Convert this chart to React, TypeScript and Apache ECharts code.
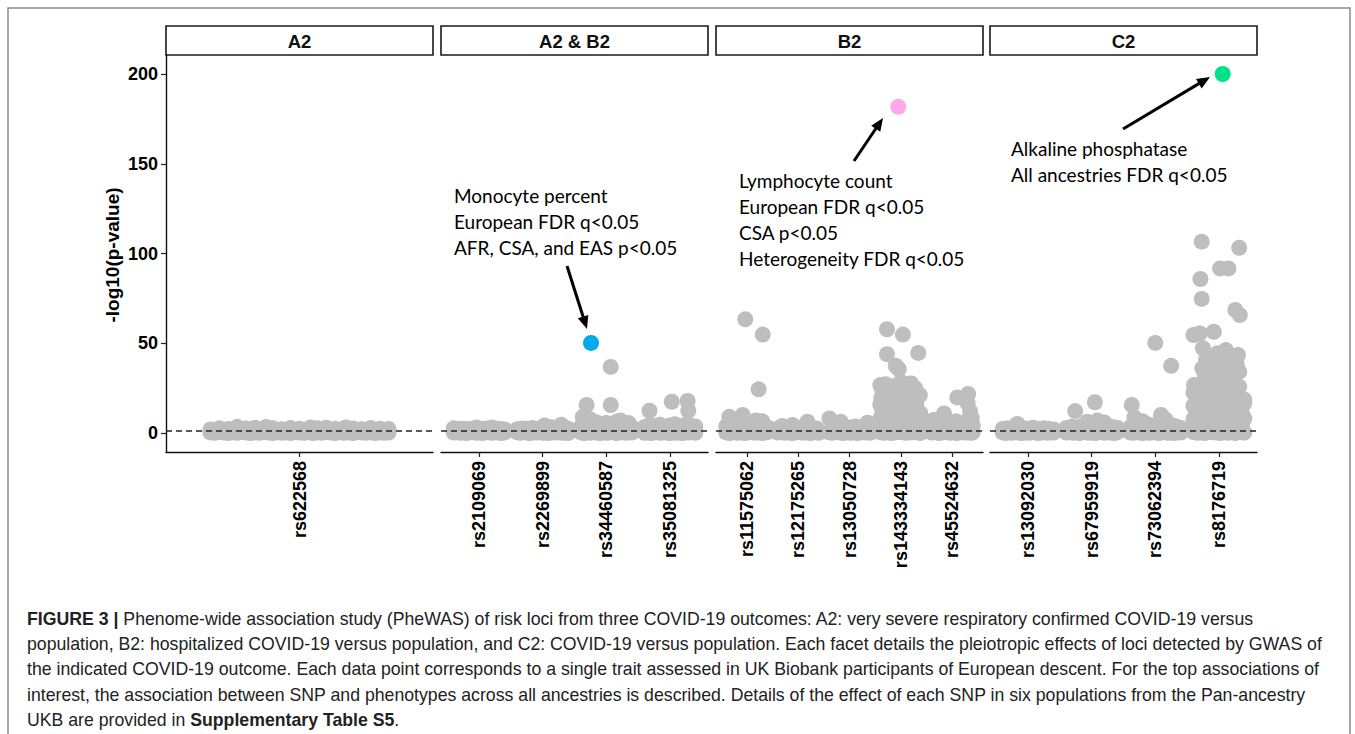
import React, { useEffect, useRef } from "react";
import * as echarts from "echarts";

// ---------------- data ----------------
const panelTitles = ["A2", "A2 & B2", "B2", "C2"];
const a2Snps = ["rs622568"];
const a2b2Snps = ["rs2109069", "rs2269899", "rs34460587", "rs35081325"];
const b2Snps = ["rs11575062", "rs12175265", "rs13050728", "rs143334143", "rs45524632"];
const c2Snps = ["rs13092030", "rs67959919", "rs73062394", "rs8176719"];
const yTicks = [0, 50, 100, 150, 200];
const sigLine = 1.3; // -log10(0.05)

// gray points per SNP: [jitter within category, -log10(p)]
const rs622568 = [
  [-0.40, 0.3], [-0.38, 0.1], [-0.36, 0.5], [-0.34, 0.2], [-0.32, 0.0], [-0.30, 0.4], [-0.28, 0.1],
  [-0.26, 0.6], [-0.24, 0.2], [-0.22, 0.0], [-0.20, 0.3], [-0.18, 0.1], [-0.16, 0.5], [-0.14, 0.2],
  [-0.12, 0.0], [-0.10, 0.4], [-0.08, 0.1], [-0.06, 0.3], [-0.04, 0.0], [-0.02, 0.5], [0.00, 0.2],
  [0.02, 0.1], [0.04, 0.4], [0.06, 0.0], [0.08, 0.3], [0.10, 0.1], [0.12, 0.5], [0.14, 0.2],
  [0.16, 0.0], [0.18, 0.4], [0.20, 0.1], [0.22, 0.3], [0.24, 0.0], [0.26, 0.5], [0.28, 0.2],
  [0.30, 0.1], [0.32, 0.4], [0.34, 0.0], [0.36, 0.3], [0.38, 0.1], [0.40, 0.2],
  [-0.40, 2.0], [-0.36, 2.6], [-0.32, 2.2], [-0.28, 3.4], [-0.24, 2.5], [-0.20, 2.9], [-0.16, 2.3],
  [-0.12, 2.7], [-0.08, 2.1], [-0.04, 2.8], [0.00, 2.4], [0.04, 2.2], [0.08, 2.6], [0.12, 2.9],
  [0.16, 2.3], [0.20, 2.7], [0.24, 2.5], [0.28, 2.1], [0.32, 2.8], [0.36, 2.4], [0.40, 2.2],
  [-0.30, 1.2], [-0.10, 1.0], [0.10, 1.3], [0.30, 1.1], [-0.15, 3.3], [0.05, 3.1], [0.21, 3.0],
];
const rs2109069 = [
  [-0.40, 0.2], [-0.35, 0.5], [-0.30, 0.1], [-0.25, 0.4], [-0.20, 0.0], [-0.15, 0.3], [-0.10, 0.6],
  [-0.05, 0.1], [0.00, 0.4], [0.05, 0.0], [0.10, 0.3], [0.15, 0.5], [0.20, 0.1], [0.25, 0.4],
  [0.30, 0.2], [0.35, 0.0], [0.40, 0.3],
  [-0.40, 2.6], [-0.32, 2.3], [-0.24, 2.4], [-0.16, 2.2], [-0.08, 2.6], [-0.04, 3.0], [0.04, 2.3],
  [0.12, 2.5], [0.20, 3.1], [0.28, 2.4], [0.34, 2.2], [0.40, 2.0], [-0.28, 1.3], [0.08, 1.4],
];
const rs2269899 = [
  [-0.40, 0.4], [-0.35, 0.1], [-0.30, 0.5], [-0.25, 0.2], [-0.20, 0.0], [-0.15, 0.4], [-0.10, 0.2],
  [-0.05, 0.6], [0.00, 0.1], [0.05, 0.3], [0.10, 0.0], [0.15, 0.5], [0.20, 0.2], [0.25, 0.4],
  [0.30, 0.1], [0.35, 0.3], [0.40, 0.0],
  [-0.40, 2.1], [-0.32, 2.5], [-0.24, 2.3], [-0.16, 2.8], [-0.08, 2.4], [0.03, 4.2], [0.08, 2.9],
  [0.14, 3.2], [0.20, 2.7], [0.29, 4.6], [0.35, 3.0], [0.40, 2.4], [-0.30, 1.2], [0.12, 1.5],
];
const rs34460587 = [
  [0.07, 36.8], [-0.31, 15.6], [0.07, 15.6], [-0.37, 9.0], [-0.25, 7.5], [0.22, 7.0], [0.35, 5.5],
  [-0.40, 0.3], [-0.35, 0.0], [-0.30, 0.4], [-0.25, 0.1], [-0.20, 0.5], [-0.15, 0.2], [-0.10, 0.0],
  [-0.05, 0.4], [0.00, 0.1], [0.05, 0.3], [0.10, 0.6], [0.15, 0.0], [0.20, 0.2], [0.25, 0.5],
  [0.30, 0.1], [0.35, 0.4], [0.40, 0.2],
  [-0.40, 3.5], [-0.32, 5.0], [-0.24, 4.2], [-0.16, 6.0], [-0.08, 4.8], [0.00, 5.5], [0.08, 4.5],
  [0.16, 6.2], [0.24, 5.0], [0.32, 4.0], [0.40, 3.2], [-0.28, 2.2], [-0.12, 2.6], [0.04, 2.0], [0.20, 2.4], [0.36, 1.8],
];
const rs35081325 = [
  [-0.32, 12.4], [0.03, 17.4], [0.28, 17.8], [0.29, 12.4],
  [-0.40, 0.1], [-0.35, 0.4], [-0.30, 0.0], [-0.25, 0.3], [-0.20, 0.6], [-0.15, 0.1], [-0.10, 0.4],
  [-0.05, 0.2], [0.00, 0.0], [0.05, 0.5], [0.10, 0.1], [0.15, 0.3], [0.20, 0.0], [0.25, 0.4],
  [0.30, 0.2], [0.35, 0.5], [0.40, 0.1],
  [-0.40, 3.2], [-0.32, 4.4], [-0.24, 3.8], [-0.16, 4.6], [-0.08, 3.5], [0.00, 4.2], [0.08, 4.8],
  [0.16, 3.9], [0.24, 4.5], [0.32, 4.1], [0.40, 3.6], [-0.28, 1.8], [-0.06, 2.2], [0.14, 1.6], [0.34, 2.0],
];
const rs11575062 = [
  [-0.03, 63.3], [0.31, 54.8], [0.23, 24.3],
  [-0.34, 9.0], [-0.08, 10.0], [0.18, 7.0], [0.30, 6.5],
  [-0.40, 0.3], [-0.33, 0.0], [-0.26, 0.5], [-0.19, 0.1], [-0.12, 0.4], [-0.05, 0.0], [0.02, 0.3],
  [0.09, 0.6], [0.16, 0.1], [0.23, 0.4], [0.30, 0.0], [0.37, 0.3], [0.40, 0.5],
  [-0.40, 3.8], [-0.30, 4.6], [-0.20, 3.5], [-0.12, 5.0], [-0.02, 4.2], [0.08, 4.8], [0.14, 3.6],
  [0.24, 4.4], [0.34, 3.9], [0.40, 3.2], [-0.26, 2.0], [0.04, 1.8], [0.28, 2.2],
];
const rs12175265 = [
  [-0.31, 3.9], [-0.11, 4.4], [0.18, 6.3],
  [-0.40, 0.2], [-0.33, 0.5], [-0.26, 0.1], [-0.19, 0.4], [-0.12, 0.0], [-0.05, 0.3], [0.02, 0.6],
  [0.09, 0.1], [0.16, 0.4], [0.23, 0.0], [0.30, 0.3], [0.37, 0.5], [0.40, 0.1],
  [-0.40, 2.4], [-0.24, 2.8], [-0.04, 2.6], [0.06, 2.9], [0.26, 3.1], [0.36, 2.5], [-0.18, 1.4], [0.12, 1.6],
];
const rs13050728 = [
  [-0.39, 8.1], [-0.17, 6.3], [0.35, 5.7],
  [-0.40, 0.4], [-0.33, 0.1], [-0.26, 0.5], [-0.19, 0.2], [-0.12, 0.0], [-0.05, 0.4], [0.02, 0.1],
  [0.09, 0.3], [0.16, 0.0], [0.23, 0.5], [0.30, 0.2], [0.37, 0.4], [0.40, 0.1],
  [-0.30, 3.2], [-0.22, 4.0], [-0.08, 3.4], [0.02, 2.9], [0.12, 3.6], [0.22, 3.1], [0.30, 3.5], [0.40, 2.8],
  [-0.10, 1.5], [0.16, 1.8],
];
const rs143334143 = [
  [-0.27, 57.8], [0.04, 54.8], [-0.27, 43.9], [0.34, 44.6], [-0.10, 37.5], [-0.04, 35.6],
  [-0.40, 0.4], [-0.33, 0.1], [-0.26, 0.8], [-0.19, 0.0], [-0.12, 0.3], [-0.05, 0.5], [0.02, 0.6],
  [0.09, 0.1], [0.16, 0.2], [0.23, 0.4], [0.30, 0.7], [0.37, 0.0], [0.40, 0.3],
  [-0.38, 4.0], [-0.22, 3.5], [-0.08, 4.5], [0.06, 3.2], [0.20, 4.2], [0.34, 3.8],
  [-0.40, 8.0], [-0.28, 7.5], [-0.14, 8.6], [0.00, 7.2], [0.14, 8.1], [0.28, 7.7], [0.40, 8.4],
  [-0.36, 12.0], [-0.20, 11.5], [-0.06, 12.6], [0.08, 11.2], [0.22, 12.3], [0.38, 11.0],
  [-0.40, 15.8], [-0.27, 16.4], [-0.12, 15.5], [0.03, 16.8], [0.17, 15.9], [0.30, 16.2],
  [-0.38, 19.5], [-0.22, 20.3], [-0.08, 19.2], [0.06, 20.6], [0.20, 19.8], [0.37, 21.1],
  [-0.36, 23.5], [-0.24, 24.2], [-0.10, 23.0], [0.04, 24.6], [0.18, 23.8], [0.28, 24.9],
  [-0.40, 26.7], [-0.18, 26.0], [0.00, 28.5], [0.20, 27.6], [-0.30, 27.2],
];
const rs45524632 = [
  [0.31, 21.7], [0.10, 19.8], [0.30, 16.7], [-0.16, 10.9], [-0.36, 7.2], [0.35, 12.0], [0.38, 8.5],
  [-0.40, 0.2], [-0.33, 0.5], [-0.26, 0.0], [-0.19, 0.3], [-0.12, 0.6], [-0.05, 0.1], [0.02, 0.4],
  [0.09, 0.0], [0.16, 0.5], [0.23, 0.2], [0.30, 0.3], [0.37, 0.1], [0.40, 0.4],
  [-0.40, 3.5], [-0.30, 4.8], [-0.20, 5.5], [-0.10, 4.0], [0.00, 5.2], [0.08, 6.5], [0.16, 4.4],
  [0.24, 5.8], [0.32, 5.0], [0.40, 4.2], [-0.24, 2.0], [0.04, 2.4], [0.28, 1.8],
];
const rs13092030 = [
  [-0.40, 0.3], [-0.35, 0.0], [-0.30, 0.4], [-0.25, 0.1], [-0.20, 0.5], [-0.15, 0.2], [-0.10, 0.0],
  [-0.05, 0.4], [0.00, 0.1], [0.05, 0.3], [0.10, 0.6], [0.15, 0.0], [0.20, 0.2], [0.25, 0.5],
  [0.30, 0.1], [0.35, 0.4], [0.40, 0.2],
  [-0.40, 2.2], [-0.32, 2.6], [-0.24, 2.3], [-0.17, 5.0], [-0.08, 2.7], [0.00, 2.4], [0.08, 2.9],
  [0.16, 2.2], [0.24, 2.6], [0.32, 2.3], [0.40, 2.0], [-0.28, 1.3], [0.12, 1.2],
];
const rs67959919 = [
  [-0.26, 12.2], [0.05, 17.1], [-0.07, 6.3], [0.09, 6.9], [0.20, 5.8],
  [-0.40, 0.2], [-0.35, 0.5], [-0.30, 0.1], [-0.25, 0.4], [-0.20, 0.0], [-0.15, 0.3], [-0.10, 0.6],
  [-0.05, 0.1], [0.00, 0.4], [0.05, 0.0], [0.10, 0.3], [0.15, 0.5], [0.20, 0.1], [0.25, 0.4],
  [0.30, 0.2], [0.35, 0.0], [0.40, 0.3],
  [-0.40, 2.8], [-0.32, 3.4], [-0.24, 3.0], [-0.16, 3.8], [-0.08, 3.2], [0.00, 4.0], [0.14, 3.6],
  [0.24, 3.9], [0.32, 3.3], [0.40, 2.9], [-0.28, 1.6], [0.06, 1.9], [0.28, 1.5],
];
const rs73062394 = [
  [-0.37, 15.6], [0.00, 50.2], [0.25, 37.4], [-0.33, 8.6], [0.09, 10.0], [0.16, 7.5], [-0.20, 6.5],
  [-0.40, 0.4], [-0.35, 0.1], [-0.30, 0.5], [-0.25, 0.2], [-0.20, 0.0], [-0.15, 0.4], [-0.10, 0.1],
  [-0.05, 0.3], [0.00, 0.6], [0.05, 0.0], [0.10, 0.2], [0.15, 0.5], [0.20, 0.1], [0.25, 0.3],
  [0.30, 0.0], [0.35, 0.4], [0.40, 0.2],
  [-0.40, 3.0], [-0.30, 4.4], [-0.22, 3.8], [-0.12, 4.8], [-0.04, 3.6], [0.04, 5.2], [0.12, 4.4],
  [0.20, 5.0], [0.28, 4.0], [0.34, 3.4], [0.40, 2.8], [-0.26, 1.9], [0.00, 2.2], [0.24, 1.7],
];
const rs8176719 = [
  [-0.27, 106.6], [0.32, 103.2], [0.02, 91.7], [0.15, 91.7], [-0.29, 85.8], [-0.27, 74.7],
  [0.26, 68.5], [0.33, 65.7], [-0.40, 54.6], [-0.30, 55.5], [-0.08, 56.4], [-0.25, 47.2],
  [-0.02, 44.4], [0.11, 46.2], [0.30, 43.5], [-0.26, 36.0], [0.03, 36.0], [0.09, 31.4],
  [0.32, 34.1], [0.32, 25.8], [-0.39, 26.7],
  [-0.40, 22.5], [-0.20, 24.0], [-0.12, 28.0], [-0.22, 32.0], [-0.15, 38.0], [-0.20, 41.0],
  [-0.06, 30.0], [0.00, 25.0], [0.10, 40.5], [0.20, 37.0], [0.28, 38.5], [0.15, 30.0],
  [0.24, 27.5], [0.18, 23.0], [-0.08, 37.0], [-0.10, 34.0],
  [-0.40, 0.5], [-0.34, 0.1], [-0.28, 0.3], [-0.22, 0.0], [-0.16, 0.8], [-0.10, 0.4], [-0.04, 0.2],
  [0.02, 0.0], [0.08, 0.6], [0.14, 0.1], [0.20, 0.4], [0.26, 0.0], [0.32, 0.9], [0.38, 0.2], [0.40, 0.3],
  [-0.36, 3.8], [-0.24, 4.4], [-0.12, 3.5], [0.00, 4.1], [0.12, 3.6], [0.24, 4.6], [0.36, 3.9],
  [-0.40, 7.6], [-0.28, 8.3], [-0.16, 7.4], [-0.04, 8.0], [0.08, 7.7], [0.20, 8.5], [0.32, 7.3], [0.40, 8.1],
  [-0.36, 11.6], [-0.24, 12.2], [-0.12, 11.4], [0.00, 12.0], [0.12, 11.8], [0.24, 12.5], [0.36, 11.3],
  [-0.40, 15.2], [-0.28, 15.8], [-0.16, 15.0], [-0.04, 16.2], [0.08, 15.4], [0.20, 16.0], [0.32, 15.6], [0.40, 16.5],
  [-0.34, 19.3], [-0.22, 20.0], [-0.10, 19.0], [0.04, 18.8], [0.18, 19.6], [0.30, 21.0], [0.40, 18.5],
];

// highlighted associations
const hlPanel = [1, 2, 3];
const hlSnp = [2, 3, 3];
const hlJitter = [-0.24, -0.05, 0.06];
const hlValue = [50.2, 181.7, 200.0];

const annotationLines = [
  ["Monocyte percent", "European FDR q<0.05", "AFR, CSA, and EAS p<0.05"],
  ["Lymphocyte count", "European FDR q<0.05", "CSA p<0.05", "Heterogeneity FDR q<0.05"],
  ["Alkaline phosphatase", "All ancestries FDR q<0.05"],
];

const captionLines = [
  "{b|FIGURE 3 |}{n| Phenome-wide association study (PheWAS) of risk loci from three COVID-19 outcomes: A2: very severe respiratory confirmed COVID-19 versus}",
  "{n|population, B2: hospitalized COVID-19 versus population, and C2: COVID-19 versus population. Each facet details the pleiotropic effects of loci detected by GWAS of}",
  "{n|the indicated COVID-19 outcome. Each data point corresponds to a single trait assessed in UK Biobank participants of European descent. For the top associations of}",
  "{n|interest, the association between SNP and phenotypes across all ancestries is described. Details of the effect of each SNP in six populations from the Pan-ancestry}",
  "{n|UKB are provided in }{b|Supplementary Table S5}{n|.}",
];

// ---------------- layout / style ----------------
const FONT = "'Liberation Sans', Arial, Helvetica, sans-serif";
const ANNOT_FONT = "Lato, 'Open Sans', sans-serif";
const hlColors = ["#00A9EA", "#FFA9E9", "#00E28A"];
const panelLeft = [166, 441, 716, 990];
const panelWidth = 267;
const panelTop = 55;
const panelHeight = 397;
const stripTop = 26;
const annotPos = [
  { x: 454, y: 195, arrow: [567, 266, 587, 329] },
  { x: 739, y: 180, arrow: [854, 161, 883, 118] },
  { x: 1011, y: 148, arrow: [1123, 129, 1210, 77] },
];

function arrowEls(a: number[]) {
  const [x1, y1, x2, y2] = a;
  const ang = Math.atan2(y2 - y1, x2 - x1);
  const L = 13, W = 5.5;
  const bx = x2 - L * Math.cos(ang), by = y2 - L * Math.sin(ang);
  const nx = -Math.sin(ang), ny = Math.cos(ang);
  return [
    { type: "line", shape: { x1, y1, x2: bx + 1.5 * Math.cos(ang), y2: by + 1.5 * Math.sin(ang) }, style: { stroke: "#000", lineWidth: 3 } },
    { type: "polygon", shape: { points: [[x2, y2], [bx + W * nx, by + W * ny], [bx - W * nx, by - W * ny]] }, style: { fill: "#000" } },
  ];
}

export default function App() {
  const ref = useRef<HTMLDivElement>(null);
  useEffect(() => {
    if (!ref.current) return;
    const chart = echarts.init(ref.current, undefined, { renderer: "svg" });
    const panels = [
      { snps: a2Snps, pts: [rs622568] },
      { snps: a2b2Snps, pts: [rs2109069, rs2269899, rs34460587, rs35081325] },
      { snps: b2Snps, pts: [rs11575062, rs12175265, rs13050728, rs143334143, rs45524632] },
      { snps: c2Snps, pts: [rs13092030, rs67959919, rs73062394, rs8176719] },
    ];
    const grid: any[] = [], xAxis: any[] = [], yAxis: any[] = [], series: any[] = [];
    panels.forEach((p, i) => {
      const idx = p.snps.map((_, k) => k);
      grid.push({ left: panelLeft[i], top: panelTop, width: panelWidth, height: panelHeight });
      xAxis.push({
        type: "value", gridIndex: i, min: -0.6, max: p.snps.length - 0.4,
        axisLine: { show: true, onZero: false, lineStyle: { color: "#111", width: 1.4 } },
        axisTick: { show: true, customValues: idx, length: 5, lineStyle: { color: "#222", width: 1.2 } },
        axisLabel: {
          show: true, customValues: idx, rotate: 90, margin: 9,
          formatter: (v: number) => p.snps[Math.round(v)] ?? "",
          fontFamily: FONT, fontWeight: "bold", fontSize: 18, color: "#000",
        },
        splitLine: { show: false },
      });
      yAxis.push({
        type: "value", gridIndex: i, min: -10.6, max: 210.6,
        axisLine: { show: i === 0, onZero: false, lineStyle: { color: "#111", width: 1.4 } },
        axisTick: { show: i === 0, customValues: yTicks, length: 5, lineStyle: { color: "#222", width: 1.2 } },
        axisLabel: {
          show: i === 0, customValues: yTicks, margin: 8,
          fontFamily: FONT, fontWeight: "bold", fontSize: 18, color: "#000",
        },
        splitLine: { show: false },
      });
      const data: number[][] = [];
      p.pts.forEach((arr, k) => arr.forEach(([j, v]) => data.push([k + j, v])));
      series.push({
        type: "scatter", xAxisIndex: i, yAxisIndex: i, data, symbolSize: 16,
        itemStyle: { color: "#BEBEBE", opacity: 1 }, silent: true,
        markLine: {
          silent: true, symbol: ["none", "none"], label: { show: false },
          lineStyle: { color: "#222", width: 1.5, type: [6, 4] },
          data: [{ yAxis: sigLine }],
        },
      });
    });
    hlPanel.forEach((pi, h) => {
      series.push({
        type: "scatter", xAxisIndex: pi, yAxisIndex: pi, symbolSize: 16, silent: true, z: 4,
        data: [[hlSnp[h] + hlJitter[h], hlValue[h]]],
        itemStyle: { color: hlColors[h], opacity: 1 },
      });
    });

    const graphic: any[] = [];
    graphic.push({ type: "rect", shape: { x: 8, y: 8, width: 1342, height: 760 }, style: { fill: "none", stroke: "#8a8a8a", lineWidth: 1.5 }, silent: true });
    panelTitles.forEach((t, i) => {
      graphic.push({ type: "rect", shape: { x: panelLeft[i], y: stripTop, width: panelWidth, height: panelTop - stripTop }, style: { fill: "#fff", stroke: "#1a1a1a", lineWidth: 1.6 } });
      graphic.push({ type: "text", x: panelLeft[i] + panelWidth / 2, y: (stripTop + panelTop) / 2 + 1, style: { text: t, fontFamily: FONT, fontWeight: "bold", fontSize: 18.5, fill: "#111", align: "center", verticalAlign: "middle" } });
    });
    graphic.push({ type: "text", x: 112, y: 255, rotation: Math.PI / 2, style: { text: "-log10(p-value)", fontFamily: FONT, fontWeight: "bold", fontSize: 19, fill: "#000", align: "center", verticalAlign: "middle" } });
    annotationLines.forEach((lines, a) => {
      const pos = annotPos[a];
      graphic.push({ type: "text", x: pos.x, y: pos.y - 13, style: { text: lines.join("\n"), fontFamily: ANNOT_FONT, fontSize: 19, lineHeight: 26, fill: "#000", align: "left", verticalAlign: "top" } });
      arrowEls(pos.arrow).forEach((e) => graphic.push(e));
    });
    const cap = { fontFamily: FONT, fontSize: 17.7, fill: "#222" };
    captionLines.forEach((line, l) => {
      graphic.push({
        type: "text", x: 27, y: 619 + l * 25.2,
        style: {
          text: line, align: "left", verticalAlign: "middle", ...cap,
          rich: { n: { ...cap, fontWeight: "normal" }, b: { ...cap, fontWeight: "bold" } },
        },
      });
    });

    chart.setOption({ animation: false, backgroundColor: "#fff", grid, xAxis, yAxis, series, graphic });
    return () => chart.dispose();
  }, []);
  return <div ref={ref} style={{ position: "absolute", left: 0, top: 0, width: 1355, height: 734 }} />;
}
